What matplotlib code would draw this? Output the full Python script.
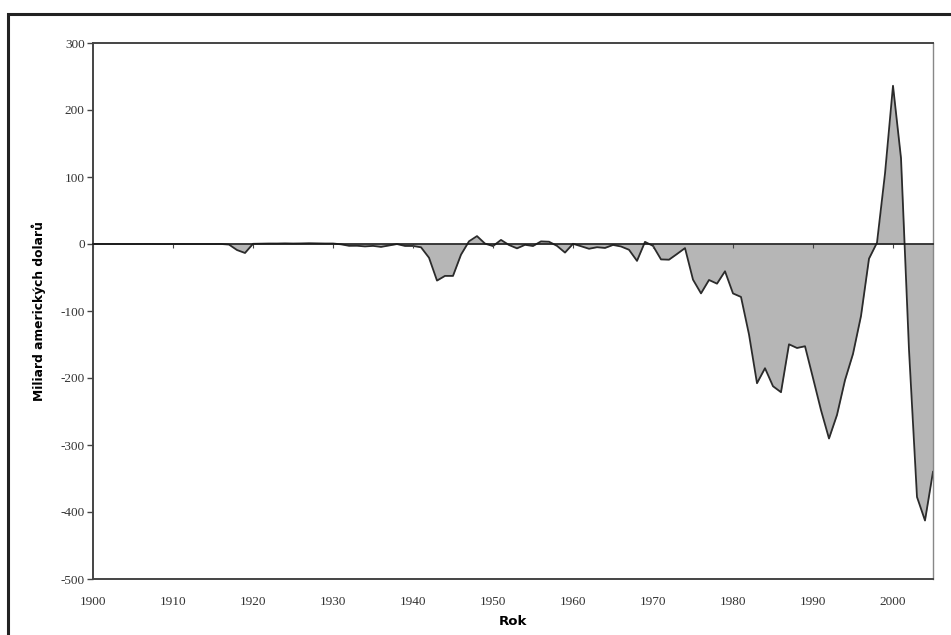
import numpy as np
import matplotlib
matplotlib.use("Agg")
import matplotlib.pyplot as plt
from matplotlib.patches import Rectangle

# rok a saldo rozpoctu (miliardy USD)
roky = np.arange(1900, 2006)
saldo = [
    0.05, 0.06, 0.03, 0.02, -0.02, -0.02, 0.03, 0.09, -0.06, -0.10,      # 1900-1909
    -0.02, 0.01, 0.00, 0.00, 0.00, -0.06, 0.05, -0.85, -9.0, -13.4,      # 1910-1919
    0.29, 0.51, 0.74, 0.71, 0.96, 0.72, 0.87, 1.16, 0.94, 0.73,          # 1920-1929
    0.74, -0.46, -2.7, -2.6, -3.6, -2.8, -4.3, -2.2, -0.09, -2.9,        # 1930-1939
    -2.9, -4.9, -20.5, -54.6, -47.6, -47.6, -15.9, 4.0, 11.8, 0.6,       # 1940-1949
    -3.1, 6.1, -1.5, -6.5, -1.2, -3.0, 3.9, 3.4, -2.8, -12.8,            # 1950-1959
    0.3, -3.3, -7.1, -4.8, -5.9, -1.4, -3.7, -8.6, -25.2, 3.2,           # 1960-1969
    -2.8, -23.0, -23.4, -14.9, -6.1, -53.2, -73.7, -53.7, -59.2, -40.7,  # 1970-1979
    -73.8, -79.0, -135.0, -207.8, -185.4, -212.3, -221.2, -149.7, -155.2, -152.6,  # 1980-1989
    -200.0, -248.0, -290.3, -255.1, -203.2, -164.0, -107.4, -21.9, 2.0, 105.0,     # 1990-1999
    236.2, 128.2, -157.8, -377.6, -412.7, -340.0,                        # 2000-2005
]
x_ticks = list(range(1900, 2001, 10))
y_ticks = list(range(-500, 301, 100))

W, H = 951, 635
fig = plt.figure(figsize=(W / 100, H / 100), dpi=100)
fig.patch.set_facecolor("white")

# vnejsi ramecek grafu (pravy a dolni okraj je oriznuty)
fig.patches.append(Rectangle((8 / W, -0.2), 1.3, 1 - 14 / H + 0.2,
                             transform=fig.transFigure, fill=False,
                             edgecolor="#222222", lw=2.2))

ax = fig.add_axes([93 / W, (H - 579) / H, (933 - 93) / W, (579 - 43) / H])
ax.fill_between(roky, saldo, 0, color="#b6b6b6", lw=0)
ax.plot(roky, saldo, color="#2b2b2b", lw=1.3)

ax.set_xlim(1900, 2005)
ax.set_ylim(-500, 300)

for s in ax.spines.values():
    s.set_color("#444444")
    s.set_linewidth(1.4)
ax.spines["right"].set_color("#888888")
ax.spines["right"].set_linewidth(1.0)

serif = "Liberation Serif"
ax.set_yticks(y_ticks)
ax.set_yticklabels([str(v) for v in y_ticks], fontsize=9.5, family=serif, color="#333333")
ax.tick_params(axis="y", direction="out", length=4, width=1, color="#444444", pad=2)

ax.set_xticks(x_ticks)
ax.set_xticklabels([str(v) for v in x_ticks], fontsize=9.5, family=serif, color="#333333")
ax.tick_params(axis="x", length=0, pad=12)

# osa x protina nulu - znacky na nulove care
ax0 = ax.twiny()
ax0.set_xlim(1900, 2005)
for name in ["top", "left", "right"]:
    ax0.spines[name].set_visible(False)
ax0.spines["bottom"].set_position(("data", 0))
ax0.spines["bottom"].set_color("#1a1a1a")
ax0.spines["bottom"].set_linewidth(1.2)
ax0.xaxis.set_ticks_position("bottom")
ax0.set_xticks(x_ticks)
ax0.tick_params(axis="x", direction="out", length=3, width=0.8,
                color="#444444", labelbottom=False, labeltop=False)

ax.set_xlabel("Rok", fontsize=9.5, fontweight="bold", family="DejaVu Sans", labelpad=5)
ax.set_ylabel("Miliard amerických dolarů", fontsize=8.8, fontweight="bold",
              family="DejaVu Sans", labelpad=10)

fig.savefig("out.png", dpi=100, facecolor="white")
